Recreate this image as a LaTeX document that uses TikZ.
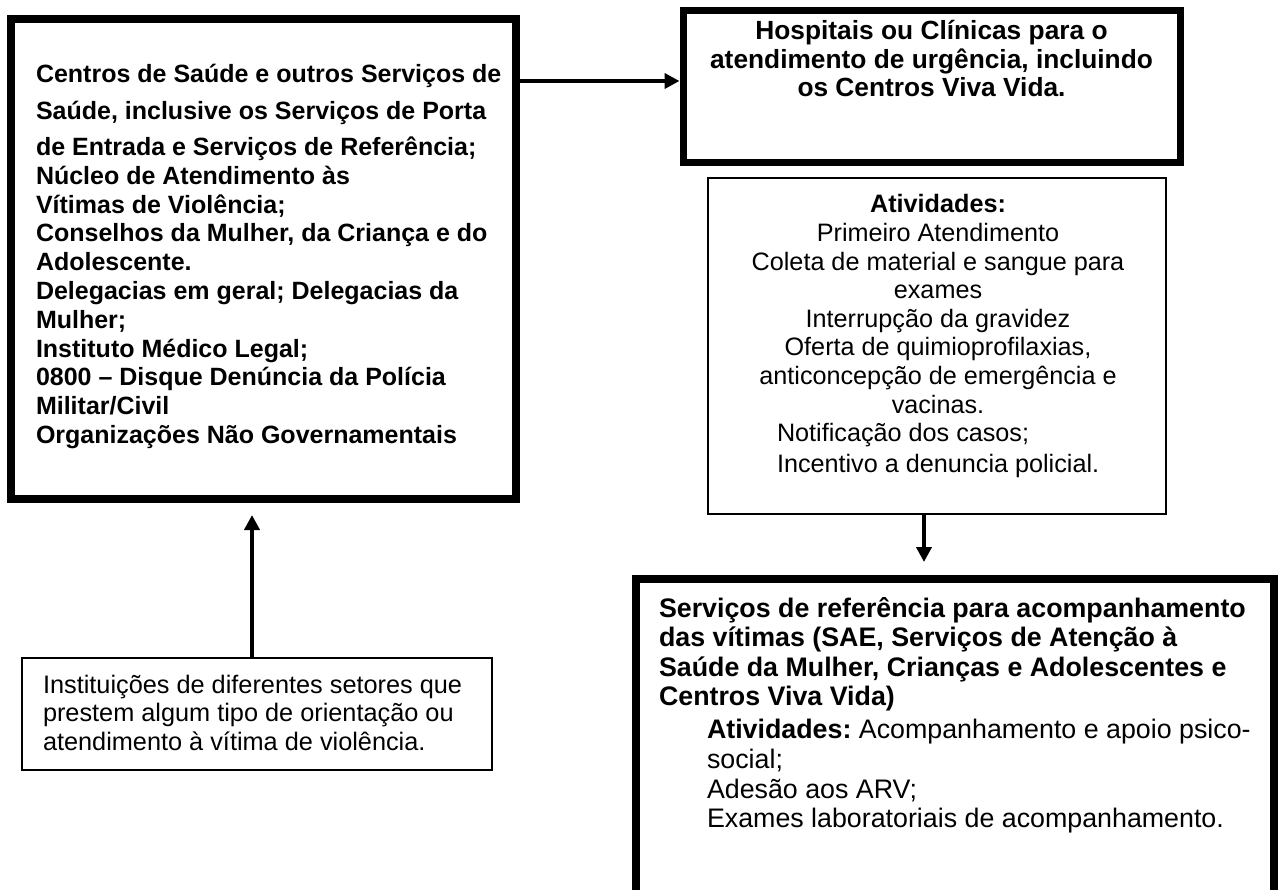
\documentclass[tikz,border=0pt]{standalone}
\usepackage{fontspec}
\setmainfont{Liberation Sans}
\usetikzlibrary{arrows.meta,calc}
\frenchspacing
\newcommand\blk[2]{\parbox[t]{#1}{\frenchspacing\lineskiplimit=-30pt\lineskip=0pt #2}}
\begin{document}
\begin{tikzpicture}[x=1pt,y=-1pt,
  thickbox/.style={draw, rectangle, line width=8pt, inner sep=0pt, outer sep=auto},
  thinbox/.style={draw, rectangle, line width=1.8pt, inner sep=0pt, outer sep=auto},
  txt/.style={inner sep=0pt, outer sep=0pt},
  arr/.style={line width=3.8pt, -{Triangle[length=15pt,width=15pt]}}]
\useasboundingbox (0,0) rectangle (1283,890);
\clip (0,0) rectangle (1283,890);

% boxes
\node[thickbox, minimum width=505pt, minimum height=480pt] (left) at (263.5,259) {};
\node[thickbox, line width=7pt, minimum width=497pt, minimum height=152pt] (hosp) at (931.5,87) {};
\node[thinbox, minimum width=458pt, minimum height=336pt] (act) at (937,346) {};
\node[thinbox, minimum width=470pt, minimum height=112pt] (inst) at (257,714) {};
\node[thickbox, minimum width=638pt, minimum height=330pt] (serv) at (955,744) {};

% texts
\node[txt, anchor=base west, font=\fontsize{25}{28.8}\selectfont] (lefttxt) at (36,83)
 {\blk{520pt}{\raggedright\bfseries Centros de Saúde e outros Serviços de\\[7.5pt]
  Saúde, inclusive os Serviços de Porta\\[7.5pt]
  de Entrada e Serviços de Referência;\\
  Núcleo de Atendimento às\\
  Vítimas de Violência;\\
  Conselhos da Mulher, da Criança e do\\
  Adolescente.\\
  Delegacias em geral; Delegacias da\\
  Mulher;\\
  Instituto Médico Legal;\\
  0800 – Disque Denúncia da Polícia\\
  Militar/Civil\\
  Organizações Não Governamentais}};

\node[txt, anchor=base, font=\fontsize{26.3}{28.5}\selectfont] (hosptxt) at (931.5,40)
 {\blk{490pt}{\centering\bfseries Hospitais ou Clínicas para o\\
  atendimento de urgência, incluindo\\
  os Centros Viva Vida.}};

\node[txt, anchor=base, font=\fontsize{25.2}{28.6}\selectfont] (acttxt) at (938,213)
 {\blk{450pt}{\centering\textbf{Atividades:}\\
  Primeiro Atendimento\\
  Coleta de material e sangue para\\
  exames\\
  Interrupção da gravidez\\
  Oferta de quimioprofilaxias,\\
  anticoncepção de emergência e\\
  vacinas.}};
\node[txt, anchor=base west, font=\fontsize{25.2}{28.6}\selectfont] (acttxtb) at (777,442)
 {\blk{380pt}{\raggedright Notificação dos casos;\\[2.4pt]
  Incentivo a denuncia policial.}};

\node[txt, anchor=base west, font=\fontsize{25.3}{28.5}\selectfont] (insttxt) at (43,693)
 {\blk{460pt}{\raggedright Instituições de diferentes setores que\\
  prestem algum tipo de orientação ou\\
  atendimento à vítima de violência.}};

\node[txt, anchor=base west, font=\fontsize{26.8}{29.6}\selectfont] (servtxt) at (659,617)
 {\blk{640pt}{\raggedright\textbf{Serviços de referência para acompanhamento}\\
  \textbf{das vítimas (SAE, Serviços de Atenção à}\\
  \textbf{Saúde da Mulher, Crianças e Adolescentes e}\\
  \textbf{Centros Viva Vida)}\\[3.4pt]
  \hspace*{48pt}\textbf{Atividades:} Acompanhamento e apoio psico-\\
  \hspace*{48pt}social;\\
  \hspace*{48pt}Adesão aos ARV;\\
  \hspace*{48pt}Exames laboratoriais de acompanhamento.}};

% connectors
\coordinate (a1) at ([yshift=6pt]hosp.west);
\draw[arr] (left.east |- a1) -- (a1);
\coordinate (a2) at ([xshift=-5pt]inst.north);
\draw[arr, shorten >=12pt] (a2) -- (a2 |- left.south);
\coordinate (a3) at ([xshift=-13pt]act.south);
\draw[arr, shorten >=13pt] (a3) -- (a3 |- serv.north);
\end{tikzpicture}
\end{document}
